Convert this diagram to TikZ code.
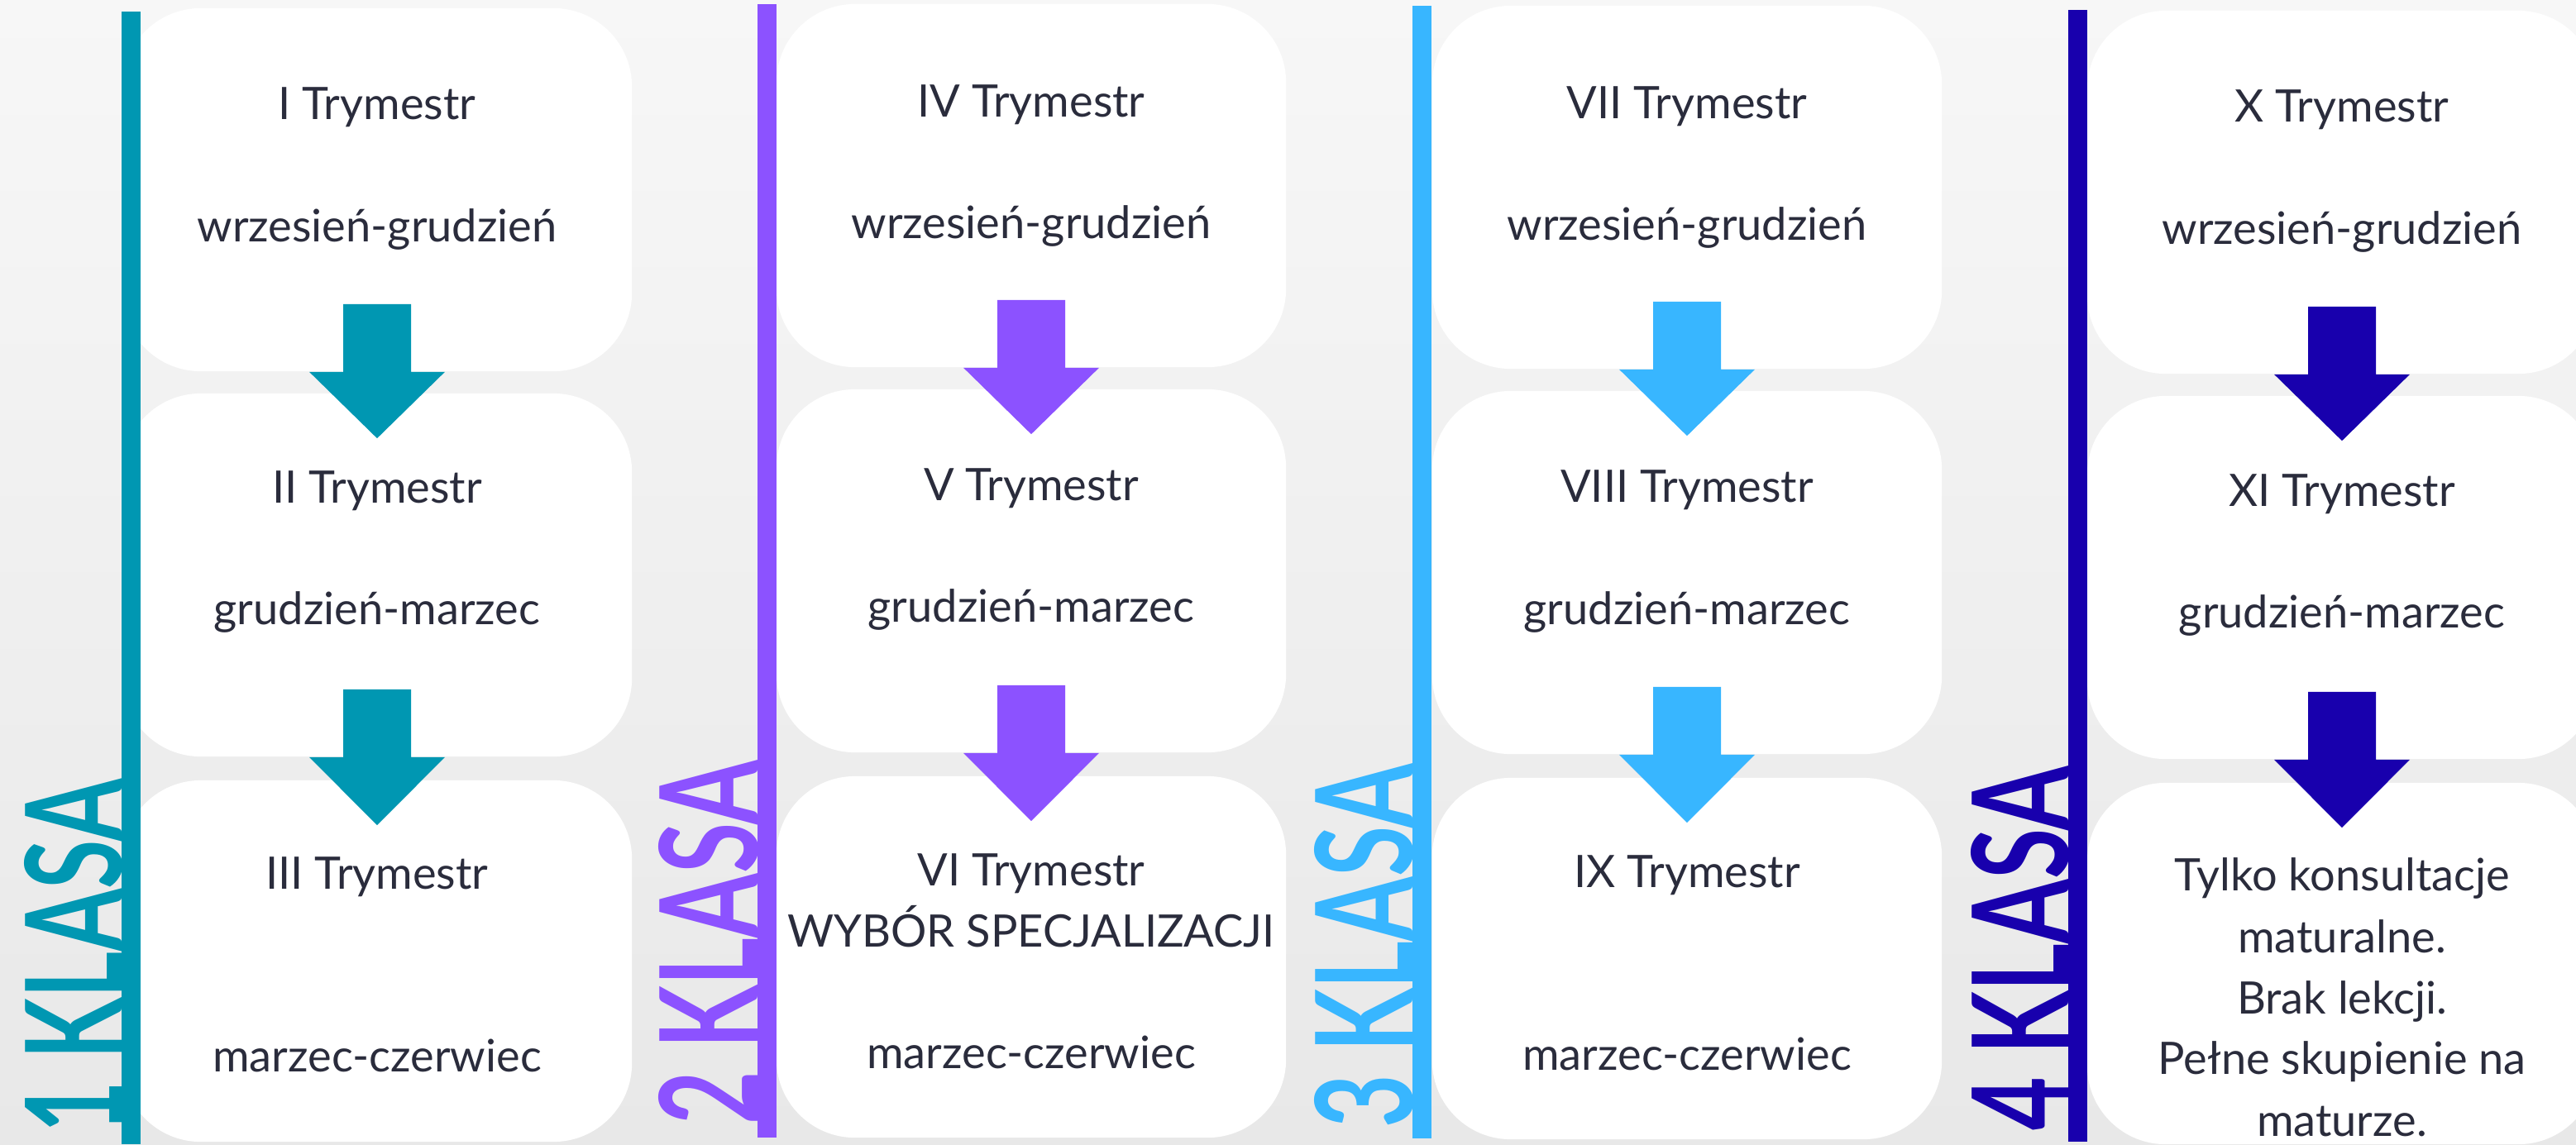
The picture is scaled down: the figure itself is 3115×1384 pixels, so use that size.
\documentclass[tikz,border=0pt]{standalone}
\usepackage{fontspec}
\setmainfont{Lato}
\usetikzlibrary{calc}

\definecolor{klasaA}{HTML}{0097B2}
\definecolor{klasaB}{HTML}{8C52FF}
\definecolor{klasaC}{HTML}{38B6FF}
\definecolor{klasaD}{HTML}{1800AD}
\definecolor{tekst}{HTML}{2A2C3C}
\definecolor{tlogora}{HTML}{F7F7F7}
\definecolor{tlodol}{HTML}{E8E8E8}

\tikzset{
	trybox/.style={fill=white, rounded corners=0.95cm, minimum width=6.16cm, minimum height=4.39cm, inner sep=0pt},
	trytext/.style={anchor=base, text=tekst, inner sep=0pt, font=\fontsize{15.4}{18}\selectfont},
	klasa/.style={anchor=base west, rotate=90, inner sep=0pt, font=\fontsize{40}{40}\selectfont\bfseries},
}

% block arrow from one box down into the next
\newcommand{\strzalka}[3]{%
	\fill[#1] ($(#2.south)+(-41,-82)$) -- ++(82,0) -- ($(#2.south)+(41,0)$) -- ++(41,0)
		-- ($(#3.north)+(0,55)$) -- ($(#2.south)+(-82,0)$) -- ++(41,0) -- cycle;}

\begin{document}
\begin{tikzpicture}[x=0.01cm, y=-0.01cm]
		\shade[top color=tlogora, bottom color=tlodol] (0,0) rectangle (3115,1384);
		\useasboundingbox (0,0) rectangle (3115,1384);
		
		% 1 klasa
		\node[trybox] (k1a) at (456,229.5) {};
		\node[trybox] (k1b) at (456,695.5) {};
		\node[trybox, minimum height=4.37cm] (k1c) at (456,1162.5) {};
		\fill[klasaA] (147,14) rectangle (170,1384);
		\node[klasa, text=klasaA] (l1) at (147,1371) {\resizebox{4.27cm}{1.18cm}{1 KLASA}};
		\node[trytext] (t1a) at (456,144) {I Trymestr};
		\node[trytext] (m1a) at (456,292) {wrzesień-grudzień};
		\node[trytext] (t1b) at (456,608) {II Trymestr};
		\node[trytext] (m1b) at (456,755) {grudzień-marzec};
		\node[trytext] (t1c) at (456,1075) {III Trymestr};
		\node[trytext] (m1c) at (456,1296) {marzec-czerwiec};
		\strzalka{klasaA}{k1a}{k1b}
		\strzalka{klasaA}{k1b}{k1c}
		
		% 2 klasa
		\node[trybox] (k2a) at (1247,224.5) {};
		\node[trybox] (k2b) at (1247,690.5) {};
		\node[trybox, minimum height=4.37cm] (k2c) at (1247,1157.5) {};
		\fill[klasaB] (916,5) rectangle (939,1376);
		\node[klasa, text=klasaB] (l2) at (916,1361) {\resizebox{4.40cm}{1.20cm}{2 KLASA}};
		\node[trytext] (t2a) at (1247,141) {IV Trymestr};
		\node[trytext] (m2a) at (1247,288) {wrzesień-grudzień};
		\node[trytext] (t2b) at (1247,605) {V Trymestr};
		\node[trytext] (m2b) at (1247,752) {grudzień-marzec};
		\node[trytext] (t2c) at (1247,1071) {VI Trymestr};
		\node[trytext] (s2c) at (1247,1145) {WYBÓR SPECJALIZACJI};
		\node[trytext] (m2c) at (1247,1292) {marzec-czerwiec};
		\strzalka{klasaB}{k2a}{k2b}
		\strzalka{klasaB}{k2b}{k2c}
		
		% 3 klasa
		\node[trybox] (k3a) at (2040,226.5) {};
		\node[trybox] (k3b) at (2040,692.5) {};
		\node[trybox, minimum height=4.37cm] (k3c) at (2040,1159.5) {};
		\fill[klasaC] (1708,7) rectangle (1731,1377);
		\node[klasa, text=klasaC] (l3) at (1708,1365) {\resizebox{4.40cm}{1.19cm}{3 KLASA}};
		\node[trytext] (t3a) at (2040,143) {VII Trymestr};
		\node[trytext] (m3a) at (2040,290) {wrzesień-grudzień};
		\node[trytext] (t3b) at (2040,607) {VIII Trymestr};
		\node[trytext] (m3b) at (2040,755) {grudzień-marzec};
		\node[trytext] (t3c) at (2040,1073) {IX Trymestr};
		\node[trytext] (m3c) at (2040,1294) {marzec-czerwiec};
		\strzalka{klasaC}{k3a}{k3b}
		\strzalka{klasaC}{k3b}{k3c}
		
		% 4 klasa
		\node[trybox] (k4a) at (2832,232.5) {};
		\node[trybox] (k4b) at (2832,698.5) {};
		\node[trybox, minimum height=4.37cm] (k4c) at (2832,1165.5) {};
		\fill[klasaD] (2501,12) rectangle (2524,1381);
		\node[klasa, text=klasaD] (l4) at (2501,1368) {\resizebox{4.40cm}{1.18cm}{4 KLASA}};
		\node[trytext] (t4a) at (2832,147) {X Trymestr};
		\node[trytext] (m4a) at (2832,295) {wrzesień-grudzień};
		\node[trytext] (t4b) at (2832,612) {XI Trymestr};
		\node[trytext] (m4b) at (2832,759) {grudzień-marzec};
		\node[trytext] (w4a) at (2832,1077) {Tylko konsultacje};
		\node[trytext] (w4b) at (2832,1152) {maturalne.};
		\node[trytext] (w4c) at (2832,1226) {Brak lekcji.};
		\node[trytext] (w4d) at (2832,1299) {Pełne skupienie na};
		\node[trytext] (w4e) at (2832,1374) {maturze.};
		\strzalka{klasaD}{k4a}{k4b}
		\strzalka{klasaD}{k4b}{k4c}
	\end{tikzpicture}
\end{document}
